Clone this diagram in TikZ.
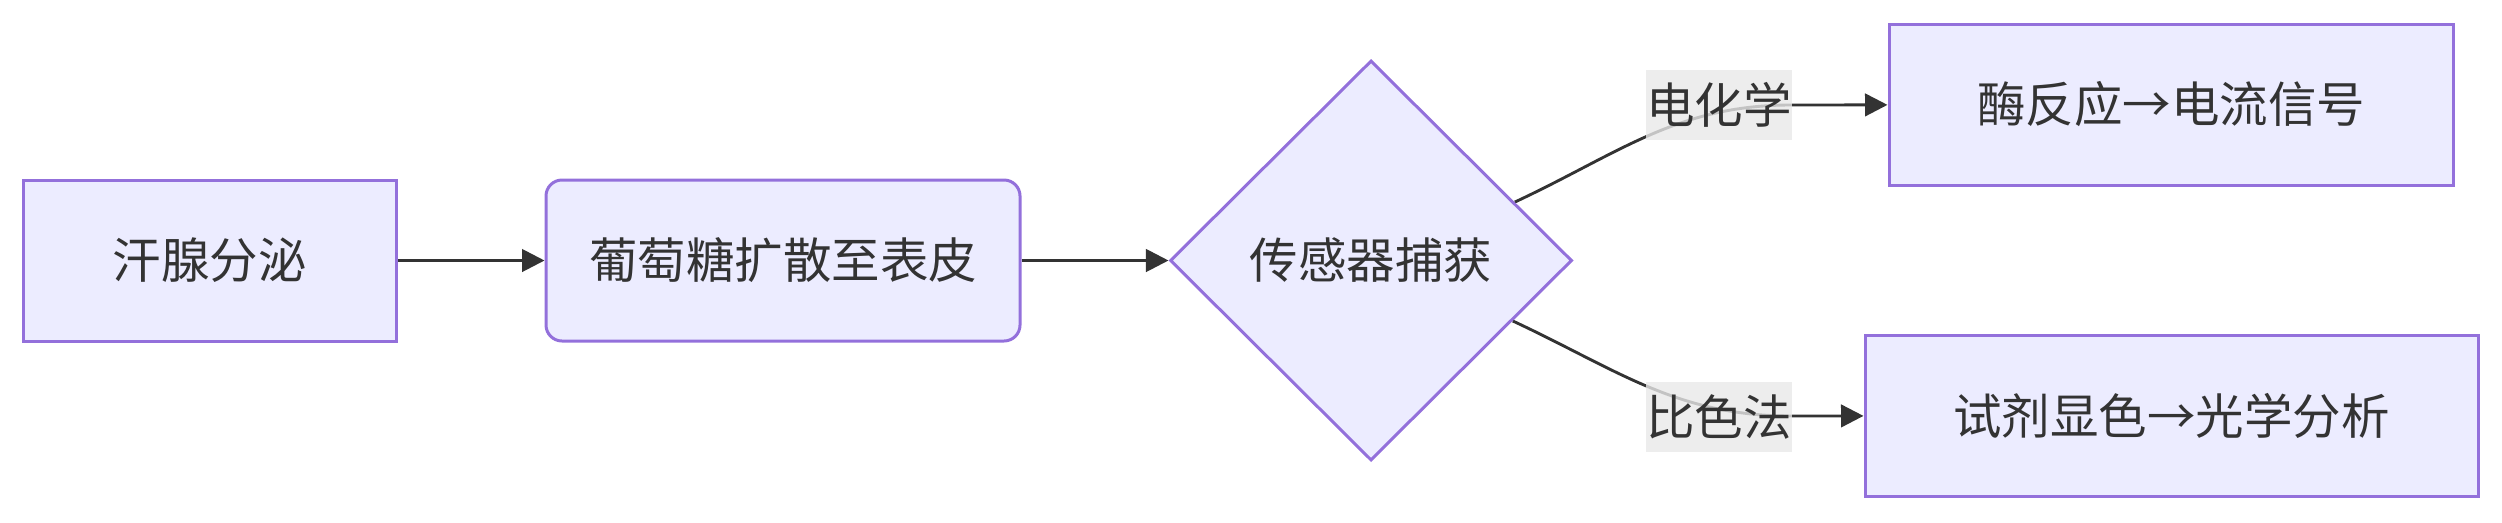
\documentclass[tikz,border=0pt]{standalone}
\usepackage{fontspec}
\setmainfont{Noto Sans CJK SC}
\usetikzlibrary{shapes.geometric, arrows.meta, positioning, backgrounds, calc}
\definecolor{flowfill}{HTML}{ECECFF}
\definecolor{flowline}{HTML}{9370DB}
\definecolor{flowtext}{HTML}{333333}
\definecolor{labelbg}{HTML}{E8E8E8}

\begin{document}
\begin{tikzpicture}[
  x=0.4pt, y=-0.4pt,
  node distance = 58.8pt,
  box/.style = {rectangle, draw=flowline, fill=flowfill, line width=1.2pt,
                minimum height=64.4pt, inner sep=0pt, text=flowtext,
                font=\fontsize{19.4}{23}\selectfont},
  decision/.style = {diamond, draw=flowline, fill=flowfill, line width=1.2pt,
                minimum width=160.8pt, minimum height=160pt, inner sep=0pt,
                text=flowtext, font=\fontsize{19.4}{23}\selectfont},
  edgelabel/.style = {fill=labelbg, fill opacity=0.8, text opacity=1, inner sep=0pt,
                minimum height=28pt, text=flowtext, font=\fontsize{19.4}{23}\selectfont},
  arrow/.style = {-{Triangle[length=9pt, width=9pt]}, line width=1.15pt, draw=flowtext}
]
\useasboundingbox (0,0) rectangle (2502,522);

\node[box, minimum width=148.8pt] (sweat) at (210,260.5) {汗腺分泌};
\node[box, minimum width=189.6pt, rounded corners=6.4pt, right=of sweat] (diffuse) {葡萄糖扩散至表皮};
\node[decision, right=of diffuse] (capture) {传感器捕获};
\node[box, minimum width=225.6pt] (enzyme) at (2171,104.5) {酶反应→电流信号};
\node[box, minimum width=245.2pt] (optic) at (2171.5,415.5) {试剂显色→光学分析};

\begin{scope}[on background layer]
\draw[arrow] (sweat) -- (diffuse);
\draw[arrow] (diffuse) -- (capture);
\draw[arrow] ($(capture.east)!0.29!(capture.north)$) to[out=25, in=180] (1791,105) -- (enzyme);
\draw[arrow] ($(capture.east)!0.3!(capture.south)$) to[out=-25, in=180] (1791,416) -- (optic);
\end{scope}

\node[edgelabel] (echem) at (1719,104.5) {电化学};
\node[edgelabel] (color) at (1719,416.5) {比色法};

\end{tikzpicture}
\end{document}
